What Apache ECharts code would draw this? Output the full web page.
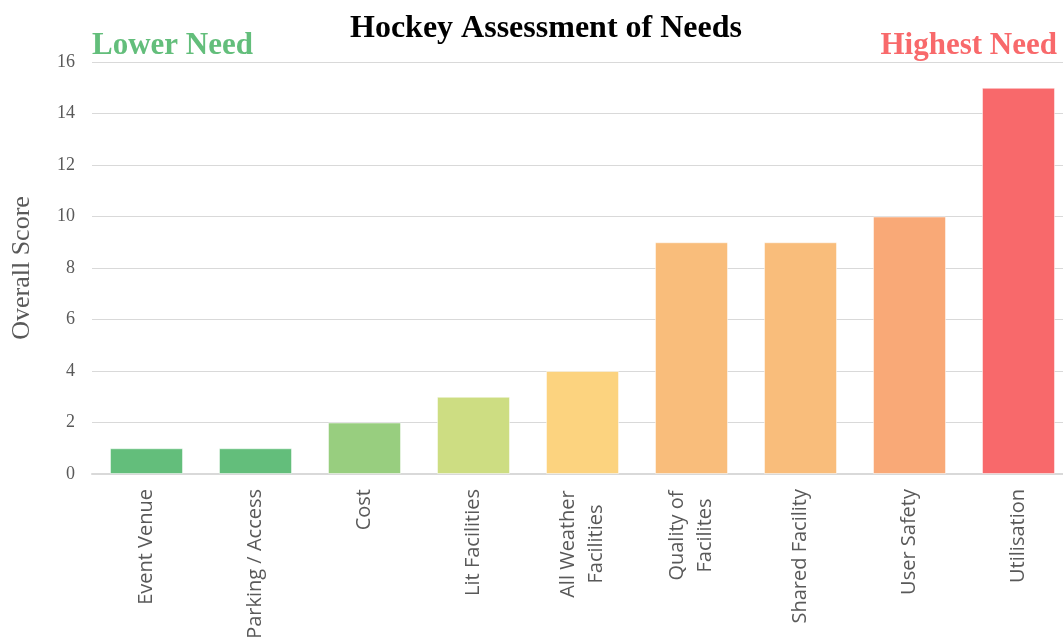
<!DOCTYPE html>
<html>
<head>
<meta charset="utf-8">
<script src="https://cdn.jsdelivr.net/npm/echarts@6/dist/echarts.min.js"></script>
<style>
  html, body { margin: 0; padding: 0; background: #fff; }
  #chart { width: 1063px; height: 643px; }
</style>
</head>
<body>
<div id="chart"></div>
<script>
// Assessment categories, ordered from lowest to highest need
const categories = ['Event Venue', 'Parking / Access', 'Cost', 'Lit Facilities',
  'All Weather\nFacilities', 'Quality of\nFacilites', 'Shared Facility', 'User Safety', 'Utilisation'];
const scores = [1, 1, 2, 3, 4, 9, 9, 10, 15];
const barColors = ['#63BE7B', '#63BE7B', '#98CE7F', '#CDDD82', '#FCD37F',
  '#F9BD7B', '#F9BD7B', '#F9A977', '#F8696B'];
const yTicks = [0, 2, 4, 6, 8, 10, 12, 14, 16];

const LABEL_SIZE = 20;
const LABEL_LH = 28;
const LABEL_COLOR = '#595959';
const measureCtx = document.createElement('canvas').getContext('2d');
measureCtx.font = LABEL_SIZE + 'px "Open Sans"';
function textWidth(s) { return Math.ceil(measureCtx.measureText(s).width) + 2; }

// Two-line labels get their lines centred within a box as wide as the longest line
const rich = {};
const labelMap = {};
categories.forEach(function (c, i) {
  const lines = c.split('\n');
  if (lines.length < 2) { labelMap[c] = c; return; }
  const key = 'm' + i;
  rich[key] = {
    fontFamily: 'Open Sans', fontSize: LABEL_SIZE, color: LABEL_COLOR,
    lineHeight: LABEL_LH, align: 'center',
    width: Math.max.apply(null, lines.map(textWidth))
  };
  labelMap[c] = lines.map(function (l) { return '{' + key + '|' + l + '}'; }).join('\n');
});

const chart = echarts.init(document.getElementById('chart'));
chart.setOption({
  animation: false,
  title: [
    { text: 'Hockey Assessment of Needs', left: 350, top: 13, padding: 0,
      textStyle: { fontFamily: 'Liberation Serif', fontWeight: 'bold', fontSize: 32, color: '#000' } },
    { text: 'Lower Need', left: 92, top: 30, padding: 0,
      textStyle: { fontFamily: 'Liberation Serif', fontWeight: 'bold', fontSize: 31, color: '#63BE7B' } },
    { text: 'Highest Need', right: 6, top: 30, padding: 0,
      textStyle: { fontFamily: 'Liberation Serif', fontWeight: 'bold', fontSize: 31, color: '#F8696B' } }
  ],
  // the plot runs slightly past the right edge of the canvas
  grid: { left: 92, width: 981, top: 62, bottom: 169, outerBoundsMode: 'none' },
  xAxis: {
    type: 'category',
    data: categories,
    axisLine: { show: true, lineStyle: { color: '#d9d9d9', width: 2 } },
    axisTick: { show: false },
    axisLabel: {
      interval: 0,
      rotate: 90,
      margin: 15,
      fontFamily: 'Open Sans',
      fontSize: LABEL_SIZE,
      color: LABEL_COLOR,
      lineHeight: LABEL_LH,
      formatter: function (v) { return labelMap[v]; },
      rich: rich
    }
  },
  yAxis: {
    type: 'value',
    min: 0,
    max: yTicks[yTicks.length - 1],
    interval: yTicks[1] - yTicks[0],
    name: 'Overall Score',
    nameLocation: 'middle',
    nameGap: 57,
    nameTextStyle: { fontFamily: 'Liberation Serif', fontSize: 26, color: '#595959' },
    axisLine: { show: false },
    axisTick: { show: false },
    splitLine: { lineStyle: { color: '#d9d9d9', width: 1 } },
    axisLabel: { margin: 17, fontFamily: 'Liberation Serif', fontSize: 18, color: '#595959' }
  },
  series: [{
    type: 'bar',
    data: scores.map(function (v, i) { return { value: v, itemStyle: { color: barColors[i] } }; }),
    barCategoryGap: '33%',
    itemStyle: { borderColor: 'rgba(255,255,255,0.5)', borderWidth: 1 }
  }]
});
</script>
</body>
</html>
